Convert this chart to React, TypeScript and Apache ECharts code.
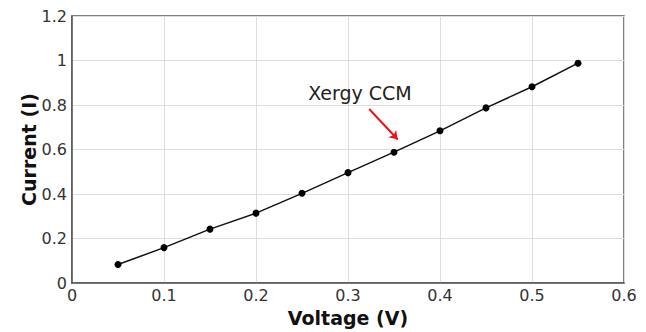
import React, { useEffect, useRef } from "react";
import * as echarts from "echarts";

const voltage = [0.05, 0.1, 0.15, 0.2, 0.25, 0.3, 0.35, 0.4, 0.45, 0.5, 0.55];
const current = [0.083, 0.159, 0.242, 0.314, 0.403, 0.496, 0.588, 0.684, 0.787, 0.882, 0.988];
const annotationText = "Xergy CCM";
const arrowStart = [0.323, 0.782];
const arrowEnd = [0.354, 0.645];
const labelPos = [0.313, 0.856];

export default function App() {
  const ref = useRef<HTMLDivElement>(null);
  useEffect(() => {
    const chart = echarts.init(ref.current!, null, { renderer: "svg" });
    const font = "Tahoma, 'DejaVu Sans', Verdana, sans-serif";
    chart.setOption({
      animation: false,
      backgroundColor: "#ffffff",
      grid: {
        left: 72,
        right: 22,
        top: 16,
        bottom: 46,
        show: true,
        borderColor: "#555",
        borderWidth: 1.5,
        containLabel: false,
      },
      xAxis: {
        type: "value",
        min: 0,
        max: 0.6,
        interval: 0.1,
        name: "Voltage (V)",
        nameLocation: "middle",
        nameGap: 25,
        nameTextStyle: { fontFamily: font, fontWeight: "bold", fontSize: 19, color: "#111" },
        axisLine: { show: true, lineStyle: { color: "#555", width: 1.5 } },
        axisTick: { show: false },
        axisLabel: { fontFamily: font, fontSize: 16, color: "#333", margin: 4 },
        splitLine: { show: true, lineStyle: { color: "#ddd", width: 1 } },
      },
      yAxis: {
        type: "value",
        min: 0,
        max: 1.2,
        interval: 0.2,
        name: "Current (I)",
        nameLocation: "middle",
        nameGap: 34,
        nameMoveOverlap: false,
        nameRotate: 90,
        nameTextStyle: { fontFamily: font, fontWeight: "bold", fontSize: 19, color: "#111" },
        axisLine: { show: true, lineStyle: { color: "#555", width: 1.5 } },
        axisTick: { show: false },
        axisLabel: {
          fontFamily: font,
          fontSize: 16,
          color: "#333",
          margin: 5,
          formatter: (v: number) => String(Math.round(v * 10) / 10),
        },
        splitLine: { show: true, lineStyle: { color: "#ddd", width: 1 } },
      },
      series: [
        {
          type: "line",
          data: voltage.map((v, i) => [v, current[i]]),
          symbol: "circle",
          symbolSize: 7,
          itemStyle: { color: "#000" },
          lineStyle: { color: "#111", width: 1.5 },
          markLine: {
            silent: true,
            symbol: ["none", "arrow"],
            symbolSize: 8,
            lineStyle: { color: "#e8141b", width: 2, type: "solid" },
            label: { show: false },
            data: [[{ coord: arrowStart }, { coord: arrowEnd }]],
          },
          markPoint: {
            silent: true,
            symbol: "circle",
            symbolSize: 0,
            label: {
              show: true,
              position: "inside",
              formatter: annotationText,
              fontFamily: font,
              fontSize: 19,
              color: "#222",
            },
            data: [{ coord: labelPos }],
          },
        },
      ],
    });
    return () => chart.dispose();
  }, []);
  return <div ref={ref} style={{ width: 646, height: 332, position: "absolute", left: 0, top: 0 }} />;
}
